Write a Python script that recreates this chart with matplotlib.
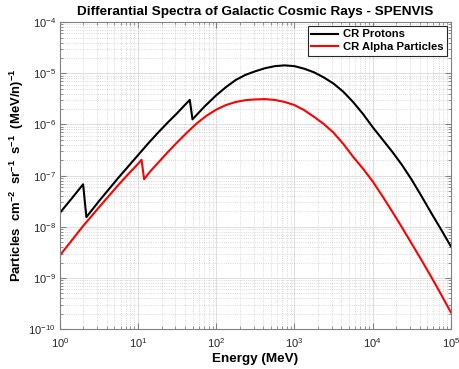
import numpy as np
import matplotlib
matplotlib.use("Agg")
import matplotlib.pyplot as plt
from matplotlib.ticker import LogLocator, NullFormatter

# values (log10 energy, log10 flux)
proton_log_e = [0.0, 0.15, 0.298, 0.34, 0.5, 0.625, 0.75, 0.875, 1.0, 1.125, 1.25, 1.375,
                1.5, 1.58, 1.662, 1.697, 1.85, 2.0, 2.125, 2.25, 2.375, 2.5, 2.625,
                2.75, 2.875, 3.0, 3.125, 3.25, 3.375, 3.5, 3.625, 3.75, 3.875, 4.0,
                4.125, 4.25, 4.375, 4.5, 4.625, 4.75, 4.875, 5.0]
proton_log_f = [-7.73, -7.45, -7.17, -7.81, -7.50, -7.27, -7.04, -6.82, -6.60, -6.38, -6.17, -5.97,
                -5.78, -5.65, -5.52, -5.90, -5.65, -5.43, -5.27, -5.13, -5.03, -4.96, -4.90,
                -4.86, -4.845, -4.86, -4.91, -4.98, -5.08, -5.20, -5.36, -5.56, -5.79, -6.05,
                -6.29, -6.53, -6.79, -7.08, -7.40, -7.73, -8.05, -8.38]

alpha_log_e = [0.0, 0.15, 0.3, 0.5, 0.625, 0.75, 0.875, 1.0, 1.045, 1.078, 1.16, 1.25,
               1.375, 1.5, 1.625, 1.75, 1.875, 2.0, 2.125, 2.25, 2.375, 2.5, 2.625,
               2.75, 2.875, 3.0, 3.125, 3.25, 3.375, 3.5, 3.625, 3.75, 3.875, 4.0,
               4.125, 4.25, 4.375, 4.5, 4.625, 4.75, 4.875, 5.0]
alpha_log_f = [-8.56, -8.27, -7.98, -7.62, -7.40, -7.18, -6.97, -6.77, -6.69, -7.07, -6.91, -6.76,
               -6.55, -6.35, -6.16, -5.98, -5.83, -5.71, -5.62, -5.56, -5.525, -5.51, -5.505,
               -5.52, -5.56, -5.62, -5.72, -5.85, -5.99, -6.16, -6.38, -6.63, -6.86, -7.11,
               -7.40, -7.70, -8.01, -8.33, -8.65, -8.98, -9.32, -9.67]

series_names = ["CR Protons", "CR Alpha Particles"]
x_ticks = [1e0, 1e1, 1e2, 1e3, 1e4, 1e5]
y_ticks = [1e-10, 1e-9, 1e-8, 1e-7, 1e-6, 1e-5, 1e-4]

plt.rcParams["font.family"] = ["Liberation Sans", "DejaVu Sans"]
plt.rcParams["mathtext.fontset"] = "custom"
plt.rcParams["mathtext.rm"] = "Liberation Sans"
plt.rcParams["mathtext.bf"] = "Liberation Sans:bold"


def main():
    fig = plt.figure(figsize=(4.6, 3.69), dpi=100)
    ax = fig.add_axes([0.130, 0.108, 0.850, 0.832])

    ax.plot(10 ** np.array(proton_log_e), 10 ** np.array(proton_log_f),
            color="black", lw=1.5, label=series_names[0])
    ax.plot(10 ** np.array(alpha_log_e), 10 ** np.array(alpha_log_f),
            color="#ff0000", lw=1.5, label=series_names[1])

    ax.set_xscale("log")
    ax.set_yscale("log")
    ax.set_xticks(x_ticks)
    ax.set_yticks(y_ticks)
    ax.set_xlim(1, 1e5)
    ax.set_ylim(1e-10, 1e-4)

    ax.xaxis.set_minor_locator(LogLocator(base=10, subs=np.arange(2, 10), numticks=10))
    ax.yaxis.set_minor_locator(LogLocator(base=10, subs=np.arange(2, 10), numticks=10))
    ax.xaxis.set_minor_formatter(NullFormatter())
    ax.yaxis.set_minor_formatter(NullFormatter())

    ax.grid(True, which="major", color="#dddddd", lw=0.7, ls="-")
    ax.grid(True, which="minor", color="#cccccc", lw=0.6, ls=":")
    ax.set_axisbelow(True)

    for s in ax.spines.values():
        s.set_color("#808080")
        s.set_linewidth(0.8)
    ax.tick_params(which="both", direction="in", top=True, right=True,
                   colors="#808080", labelcolor="#262626", labelsize=8)
    ax.tick_params(axis="x", which="major", length=4, pad=5)
    ax.tick_params(axis="y", which="major", length=4, pad=3)
    ax.tick_params(which="minor", length=2)

    ax.set_title("Differantial Spectra of Galactic Cosmic Rays - SPENVIS",
                 fontsize=9.7, fontweight="bold", pad=5)
    ax.set_xlabel("Energy (MeV)", fontsize=9.7, fontweight="bold", labelpad=2)
    ax.set_ylabel(r"Particles  cm$^{\mathbf{-2}}$  sr$^{\mathbf{-1}}$  s$^{\mathbf{-1}}$  (MeV/n)$^{\mathbf{-1}}$",
                  fontsize=9.4, fontweight="bold", labelpad=2)

    leg = ax.legend(loc="upper right", prop={"weight": "bold", "size": 8.1},
                    frameon=True, fancybox=False, borderaxespad=0.3,
                    handlelength=2.4, handletextpad=0.4, borderpad=0.35, labelspacing=0.25)
    leg.get_frame().set_edgecolor("#262626")
    leg.get_frame().set_linewidth(0.8)
    leg.get_frame().set_alpha(1)

    fig.savefig("out.png", dpi=100)
    plt.close(fig)


if __name__ == "__main__":
    main()
